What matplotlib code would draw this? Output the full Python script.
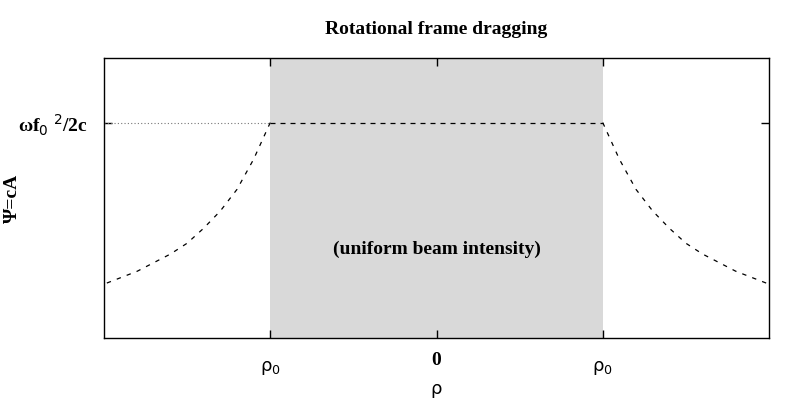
import numpy as np
import matplotlib.pyplot as plt

# values (rho in units of rho0, psi in units of w f0^2/2c)
rho_out = [1.0, 1.1, 1.2, 1.3, 1.4, 1.5, 1.6, 1.7, 1.8, 1.9, 2.0]
psi_out = [1.0, 0.83, 0.69, 0.59, 0.51, 0.44, 0.39, 0.35, 0.31, 0.28, 0.25]
rho_in = [-1.0, 1.0]
psi_in = [1.0, 1.0]
beam = (-1.0, 1.0)
xtick_pos = [-1.0, 0.0, 1.0]
xtick_lab = ['ρ$_0$', '0', 'ρ$_0$']
ytick_pos = [1.0]
ytick_lab = ['ωf$_0$ $^2$/2c']

serif = ['Liberation Serif', 'DejaVu Serif']

fig = plt.figure(figsize=(8, 4), dpi=100)
ax = fig.add_axes([0.13, 0.155, 0.83125, 0.70])

ax.axvspan(beam[0], beam[1], color='#d9d9d9', lw=0, zorder=0)

r = np.array(rho_out)
p = np.array(psi_out)
ax.plot(r, p, color='black', lw=0.9, dashes=(3.5, 5))
ax.plot(-r, p, color='black', lw=0.9, dashes=(3.5, 5))
ax.plot(rho_in, psi_in, color='black', lw=0.9, dashes=(4, 4))
ax.plot([-2, beam[0]], [1.0, 1.0], color='#777777', lw=0.8, dashes=(1, 2))

ax.set_xlim(-2, 2)
ax.set_ylim(0, 1.3)

ax.set_xticks(xtick_pos)
ax.set_xticklabels(xtick_lab)
ax.set_yticks(ytick_pos)
ax.set_yticklabels(ytick_lab, family=serif, fontweight='bold', fontsize=14)
ax.tick_params(direction='in', length=6, width=1, top=True, right=True)
ax.tick_params(axis='x', pad=10)
ax.tick_params(axis='y', pad=12)
for i, t in enumerate(ax.get_xticklabels()):
    if i == 1:
        t.set_family(serif)
        t.set_fontweight('bold')
        t.set_fontsize(14)
    else:
        t.set_fontsize(13)
        t.set_y(-0.025)
for s in ax.spines.values():
    s.set_linewidth(1)

ax.set_xlabel('ρ', fontsize=13)
ax.xaxis.set_label_coords(0.5, -0.15)
ax.set_ylabel('Ψ=cA', family=serif, fontweight='bold', fontsize=14)
ax.yaxis.set_label_coords(-0.125, 0.5)
ax.set_title('Rotational frame dragging', family=serif, fontweight='bold', fontsize=14, pad=17)

ax.text(0, 0.41, '(uniform beam intensity)', family=serif, fontweight='bold',
        fontsize=14, ha='center', va='center')

fig.savefig('out.png', dpi=100)
